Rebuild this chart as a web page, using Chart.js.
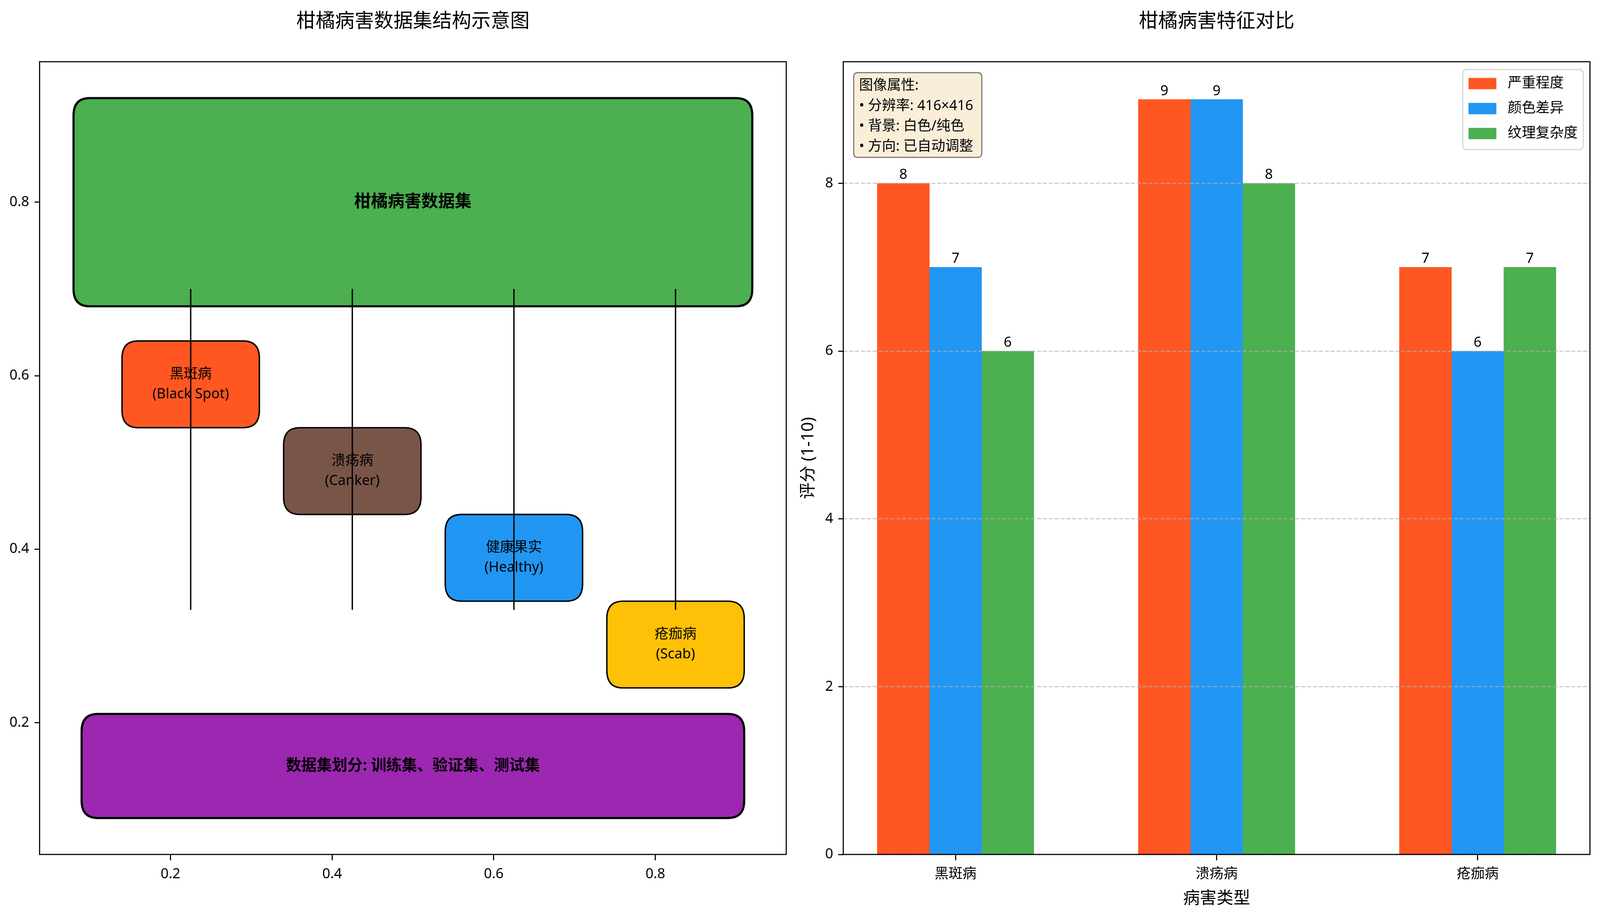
<!DOCTYPE html>
<html>
<head>
<meta charset="utf-8">
<script src="https://cdn.jsdelivr.net/npm/chart.js@4.4.1/dist/chart.umd.min.js"></script>
<style>
html,body{margin:0;padding:0;background:#fff;overflow:hidden}
canvas{position:absolute;top:0}
</style>
</head>
<body>
<script>
// ---------- Left panel data (schematic) ----------
const leftTitle = '柑橘病害数据集结构示意图';
const leftXTicks = [0.2, 0.4, 0.6, 0.8];
const leftYTicks = [0.2, 0.4, 0.6, 0.8];
const boxLabels = ['柑橘病害数据集', '黑斑病\n(Black Spot)', '溃疡病\n(Canker)', '健康果实\n(Healthy)', '疮痂病\n(Scab)', '数据集划分: 训练集、验证集、测试集'];
const boxX = [0.10, 0.16, 0.36, 0.56, 0.76, 0.11];
const boxY = [0.70, 0.56, 0.46, 0.36, 0.26, 0.11];
const boxW = [0.80, 0.13, 0.13, 0.13, 0.13, 0.78];
const boxH = [0.20, 0.06, 0.06, 0.06, 0.06, 0.08];
const linkX = [0.225, 0.425, 0.625, 0.825];
const linkY = [0.70, 0.33];

// ---------- Right panel data (bars) ----------
const rightTitle = '柑橘病害特征对比';
const categories = ['黑斑病', '溃疡病', '疮痂病'];
const seriesNames = ['严重程度', '颜色差异', '纹理复杂度'];
const severity = [8, 9, 7];
const colorDiff = [7, 9, 6];
const texture = [6, 8, 7];
const rightYTicks = [0, 2, 4, 6, 8];
const infoLines = ['图像属性:', '• 分辨率: 416×416', '• 背景: 白色/纯色', '• 方向: 已自动调整'];

// ---------- Styles / layout (reference pixels scaled to the viewport) ----------
const REF_W = 4770, REF_H = 2361;
const vw = window.innerWidth || REF_W, vh = window.innerHeight || REF_H;
const KX = vw / REF_W, KY = vh / REF_H, KF = KX;
const SX = v => v * KX, SY = v => v * KY, SF = v => v * KF;
document.documentElement.style.width = document.body.style.width = vw + 'px';
document.documentElement.style.height = document.body.style.height = vh + 'px';

const FONT = '"Noto Sans", "Noto Sans CJK SC", sans-serif';
const boxColors = ['#4CAF50', '#FF5722', '#795548', '#2196F3', '#FFC107', '#9C27B0'];
const boxPad = 0.02;
const seriesColors = ['#FF5722', '#2196F3', '#4CAF50'];
const seriesValues = [severity, colorDiff, texture];
const barWidth = 0.2;
const PT10 = SF(41.7);
const TITLE = SF(58), LABEL = SF(50);

function makeCanvas(left) {
  const c = document.createElement('canvas');
  c.style.left = SX(left) + 'px';
  c.width = Math.round(SX(2385));
  c.height = Math.round(vh);
  document.body.appendChild(c);
  return c;
}

function roundPath(ctx, x0, y0, x1, y1, rx, ry) {
  ctx.beginPath();
  ctx.moveTo(x0 + rx, y0);
  ctx.lineTo(x1 - rx, y0);
  ctx.quadraticCurveTo(x1, y0, x1, y0 + ry);
  ctx.lineTo(x1, y1 - ry);
  ctx.quadraticCurveTo(x1, y1, x1 - rx, y1);
  ctx.lineTo(x0 + rx, y1);
  ctx.quadraticCurveTo(x0, y1, x0, y1 - ry);
  ctx.lineTo(x0, y0 + ry);
  ctx.quadraticCurveTo(x0, y0, x0 + rx, y0);
  ctx.closePath();
}

const framePlugin = {
  id: 'frame',
  afterDraw(chart) {
    const {ctx, chartArea: a} = chart;
    ctx.save();
    ctx.strokeStyle = '#000';
    ctx.lineWidth = SF(3.3);
    ctx.strokeRect(a.left, a.top, a.right - a.left, a.bottom - a.top);
    ctx.restore();
  }
};

const boxesPlugin = {
  id: 'boxes',
  beforeDatasetsDraw(chart) {
    const {ctx, scales: {x, y}} = chart;
    ctx.save();
    for (let i = 0; i < boxLabels.length; i++) {
      const px0 = x.getPixelForValue(boxX[i] - boxPad);
      const px1 = x.getPixelForValue(boxX[i] + boxW[i] + boxPad);
      const py0 = y.getPixelForValue(boxY[i] + boxH[i] + boxPad);
      const py1 = y.getPixelForValue(boxY[i] - boxPad);
      const rx = Math.abs(x.getPixelForValue(boxPad) - x.getPixelForValue(0));
      const ry = Math.abs(y.getPixelForValue(boxPad) - y.getPixelForValue(0));
      roundPath(ctx, px0, py0, px1, py1, rx, ry);
      ctx.fillStyle = boxColors[i];
      ctx.fill();
      ctx.lineWidth = (i === 0 || i === 5) ? SF(6.25) : SF(4.2);
      ctx.strokeStyle = '#000';
      ctx.stroke();
      const cx = x.getPixelForValue(boxX[i] + boxW[i] / 2);
      const cy = y.getPixelForValue(boxY[i] + boxH[i] / 2);
      ctx.fillStyle = '#000';
      ctx.textAlign = 'center';
      ctx.textBaseline = 'middle';
      if (i === 0) ctx.font = `bold ${SF(50)}px ${FONT}`;
      else if (i === 5) ctx.font = `bold ${SF(45.8)}px ${FONT}`;
      else ctx.font = `${PT10}px ${FONT}`;
      const lines = boxLabels[i].split('\n');
      const lh = SY(51);
      lines.forEach((t, k) => {
        ctx.fillText(t, cx, cy + (k - (lines.length - 1) / 2) * lh);
      });
    }
    ctx.restore();
  }
};

// common axis pieces
const titleTop = SY(56) - TITLE * 0.6;
const titleBottom = SY(158) - titleTop - TITLE * 1.2;
const xTickLen = SY(15), yTickLen = SX(15);
const xTickPad = SY(51) - xTickLen - PT10 * 0.6;
const xGrid = () => ({drawOnChartArea: false, drawTicks: true, tickLength: xTickLen, tickWidth: SF(3.3), tickColor: '#000', offset: false});
const yGridTicksOnly = () => ({drawOnChartArea: false, drawTicks: true, tickLength: yTickLen, tickWidth: SF(3.3), tickColor: '#000'});
const titleOpts = text => ({
  display: true, text, fullSize: false, color: '#000',
  font: {family: FONT, size: TITLE, weight: 'normal', lineHeight: 1.2},
  padding: {top: titleTop, bottom: titleBottom}
});

new Chart(makeCanvas(0), {
  type: 'line',
  data: {
    datasets: linkX.map(lx => ({
      data: linkY.map(ly => ({x: lx, y: ly})),
      borderColor: '#000',
      borderWidth: SF(4),
      pointRadius: 0,
      fill: false
    }))
  },
  options: {
    responsive: false,
    animation: false,
    layout: {padding: {left: 0, right: SX(41), top: 0, bottom: 0}},
    plugins: {
      legend: {display: false},
      tooltip: {enabled: false},
      title: titleOpts(leftTitle)
    },
    scales: {
      x: {
        type: 'linear', min: 0.038, max: 0.962, offset: false,
        afterBuildTicks: s => { s.ticks = leftXTicks.map(v => ({value: v})); },
        afterFit: s => { s.height = SY(173); },
        ticks: {color: '#000', font: {family: FONT, size: PT10}, padding: xTickPad, callback: v => Number(v).toFixed(1)},
        grid: xGrid(),
        border: {display: false}
      },
      y: {
        type: 'linear', min: 0.048, max: 0.962,
        afterBuildTicks: s => { s.ticks = leftYTicks.map(v => ({value: v})); },
        afterFit: s => { s.width = SX(118); },
        ticks: {color: '#000', font: {family: FONT, size: PT10}, padding: SX(16), callback: v => Number(v).toFixed(1)},
        grid: yGridTicksOnly(),
        border: {display: false}
      }
    }
  },
  plugins: [boxesPlugin, framePlugin]
});

const valueLabelPlugin = {
  id: 'valueLabels',
  afterDatasetsDraw(chart) {
    const {ctx} = chart;
    ctx.save();
    ctx.fillStyle = '#000';
    ctx.font = `${PT10}px ${FONT}`;
    ctx.textAlign = 'center';
    ctx.textBaseline = 'alphabetic';
    chart.data.datasets.forEach((ds, j) => {
      const meta = chart.getDatasetMeta(j);
      meta.data.forEach((el, i) => {
        ctx.fillText(String(ds.data[i].y), el.x, el.y - SY(11));
      });
    });
    ctx.restore();
  }
};

const overlayPlugin = {
  id: 'overlay',
  afterDraw(chart) {
    const {ctx, chartArea: a} = chart;
    ctx.save();
    // info box (top-left)
    const ix = a.left + SX(31), iy = a.top + SY(28), iw = SX(382), ih = SY(217);
    roundPath(ctx, ix, iy, ix + iw, iy + ih, SX(12), SY(12));
    ctx.fillStyle = 'rgba(245,222,179,0.5)';
    ctx.fill();
    ctx.lineWidth = SF(3.3);
    ctx.strokeStyle = 'rgba(0,0,0,0.5)';
    ctx.stroke();
    ctx.fillStyle = '#000';
    ctx.font = `${PT10}px ${FONT}`;
    ctx.textAlign = 'left';
    ctx.textBaseline = 'middle';
    infoLines.forEach((t, k) => ctx.fillText(t, ix + SX(16), iy + SY(34) + k * SY(52)));
    // legend (top-right)
    const lw = SX(359), lh = SY(205);
    const lx = a.right - SX(20) - lw, ly = a.top + SY(20);
    roundPath(ctx, lx, ly, lx + lw, ly + lh, SX(12), SY(12));
    ctx.fillStyle = 'rgba(255,255,255,0.8)';
    ctx.fill();
    ctx.strokeStyle = '#d6d6d6';
    ctx.lineWidth = SF(3.3);
    ctx.stroke();
    chart.data.datasets.forEach((ds, j) => {
      const cy = ly + SY(36) + j * SY(64);
      ctx.fillStyle = ds.backgroundColor;
      ctx.fillRect(lx + SX(17), cy - SY(14.5), SX(83), SY(29));
      ctx.fillStyle = '#000';
      ctx.fillText(ds.label, lx + SX(134), cy);
    });
    ctx.restore();
  }
};

new Chart(makeCanvas(2385), {
  type: 'bar',
  data: {
    datasets: seriesValues.map((vals, j) => ({
      label: seriesNames[j],
      data: vals.map((v, i) => ({x: i + (j - 1) * barWidth, y: v})),
      backgroundColor: seriesColors[j],
      borderWidth: 0,
      grouped: false,
      barPercentage: 1,
      categoryPercentage: 1
    }))
  },
  options: {
    responsive: false,
    animation: false,
    layout: {padding: {left: 0, right: SX(30), top: 0, bottom: 0}},
    plugins: {
      legend: {display: false},
      tooltip: {enabled: false},
      title: titleOpts(rightTitle)
    },
    scales: {
      x: {
        type: 'linear', min: -0.43, max: 2.43, offset: false,
        afterBuildTicks: s => { s.ticks = categories.map((c, i) => ({value: i})); },
        afterFit: s => { s.height = SY(173); },
        ticks: {color: '#000', font: {family: FONT, size: PT10}, padding: xTickPad, callback: v => categories[Math.round(v)]},
        grid: xGrid(),
        border: {display: false},
        title: {display: true, text: '病害类型', color: '#000', font: {family: FONT, size: LABEL, lineHeight: 1.2}, padding: {top: 0, bottom: SY(59) - LABEL * 0.6}}
      },
      y: {
        type: 'linear', min: 0, max: 9.45,
        afterBuildTicks: s => { s.ticks = rightYTicks.map(v => ({value: v})); },
        afterFit: s => { s.width = SX(129); },
        ticks: {color: '#000', font: {family: FONT, size: PT10}, padding: SX(15)},
        grid: {z: 1, color: 'rgba(176,176,176,0.7)', lineWidth: SF(3.3), drawTicks: true, tickLength: yTickLen, tickWidth: SF(3.3), tickColor: '#000', tickBorderDash: []},
        border: {display: false, dash: [SX(12), SX(5.5)]},
        title: {display: true, text: '评分 (1-10)', color: '#000', font: {family: FONT, size: LABEL, lineHeight: 1}, padding: {top: Math.max(0, SX(25) - LABEL / 2), bottom: 0}}
      }
    }
  },
  plugins: [valueLabelPlugin, overlayPlugin, framePlugin]
});
</script>
</body>
</html>
